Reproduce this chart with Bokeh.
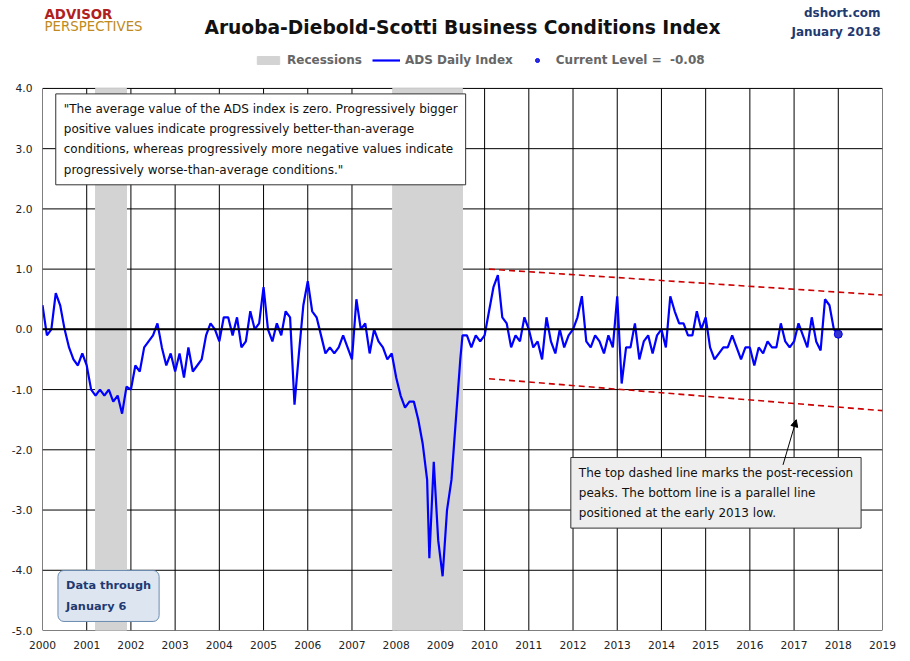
from bokeh.plotting import figure
from bokeh.models import Range1d, Label, Legend, LegendItem, FixedTicker, NumeralTickFormatter, Span, Arrow, NormalHead
from bokeh.embed import file_html
from bokeh.resources import INLINE

years = [2000.0,2000.1,2000.2,2000.3,2000.4,2000.5,2000.6,2000.7,2000.8,2000.9,
2001.0,2001.1,2001.2,2001.3,2001.4,2001.5,2001.6,2001.7,2001.8,2001.9,
2002.0,2002.1,2002.2,2002.3,2002.4,2002.5,2002.6,2002.7,2002.8,2002.9,
2003.0,2003.1,2003.2,2003.3,2003.4,2003.5,2003.6,2003.7,2003.8,2003.9,
2004.0,2004.1,2004.2,2004.3,2004.4,2004.5,2004.6,2004.7,2004.8,2004.9,
2005.0,2005.1,2005.2,2005.3,2005.4,2005.5,2005.6,2005.7,2005.8,2005.9,
2006.0,2006.1,2006.2,2006.3,2006.4,2006.5,2006.6,2006.7,2006.8,2006.9,
2007.0,2007.1,2007.2,2007.3,2007.4,2007.5,2007.6,2007.7,2007.8,2007.9,
2008.0,2008.1,2008.2,2008.3,2008.4,2008.5,2008.6,2008.7,2008.75,2008.85,2008.95,
2009.0,2009.05,2009.15,2009.25,2009.35,2009.45,2009.5,2009.6,2009.7,2009.8,2009.9,
2010.0,2010.1,2010.2,2010.3,2010.4,2010.5,2010.6,2010.7,2010.8,2010.9,
2011.0,2011.1,2011.2,2011.3,2011.4,2011.5,2011.6,2011.7,2011.8,2011.9,
2012.0,2012.1,2012.2,2012.3,2012.4,2012.5,2012.6,2012.7,2012.8,2012.9,
2013.0,2013.1,2013.2,2013.3,2013.4,2013.5,2013.6,2013.7,2013.8,2013.9,
2014.0,2014.1,2014.2,2014.3,2014.4,2014.5,2014.6,2014.7,2014.8,2014.9,
2015.0,2015.1,2015.2,2015.3,2015.4,2015.5,2015.6,2015.7,2015.8,2015.9,
2016.0,2016.1,2016.2,2016.3,2016.4,2016.5,2016.6,2016.7,2016.8,2016.9,
2017.0,2017.1,2017.2,2017.3,2017.4,2017.5,2017.6,2017.7,2017.8,2017.9,2018.0]
ads = [0.4,-0.1,0.0,0.6,0.4,0.0,-0.3,-0.5,-0.6,-0.4,
-0.6,-1.0,-1.1,-1.0,-1.1,-1.0,-1.2,-1.1,-1.4,-0.95,
-1.0,-0.6,-0.7,-0.3,-0.2,-0.1,0.1,-0.3,-0.6,-0.4,
-0.7,-0.4,-0.8,-0.3,-0.7,-0.6,-0.5,-0.1,0.1,0.0,
-0.2,0.2,0.2,-0.1,0.2,-0.3,-0.2,0.3,0.0,0.1,
0.7,0.0,-0.2,0.1,-0.1,0.3,0.2,-1.25,-0.4,0.4,
0.8,0.3,0.2,-0.1,-0.4,-0.3,-0.4,-0.3,-0.1,-0.3,
-0.5,0.5,0.0,0.1,-0.4,0.0,-0.2,-0.3,-0.5,-0.4,
-0.8,-1.1,-1.3,-1.2,-1.2,-1.5,-1.9,-2.5,-3.8,-2.2,-3.5,
-3.8,-4.1,-3.0,-2.5,-1.5,-0.5,-0.1,-0.1,-0.3,-0.1,-0.2,
-0.1,0.3,0.7,0.9,0.2,0.1,-0.3,-0.1,-0.2,0.2,
0.0,-0.3,-0.2,-0.5,0.2,-0.2,-0.4,0.0,-0.3,-0.1,
0.0,0.2,0.55,-0.2,-0.3,-0.1,-0.2,-0.4,-0.1,-0.3,
0.55,-0.9,-0.3,-0.3,0.1,-0.5,-0.2,-0.1,-0.4,-0.1,
0.0,-0.3,0.55,0.3,0.1,0.1,-0.1,-0.1,0.3,0.0,
0.2,-0.3,-0.5,-0.4,-0.3,-0.3,-0.1,-0.3,-0.5,-0.3,
-0.3,-0.6,-0.3,-0.4,-0.2,-0.3,-0.3,0.1,-0.2,-0.3,
-0.2,0.1,-0.1,-0.3,0.2,-0.2,-0.35,0.5,0.4,0.0,-0.08]
rec_start = [2001.2, 2007.92]
rec_end = [2001.9, 2009.5]
top_x = [2010.1, 2019.0]; top_y = [1.0, 0.57]
bot_x = [2010.1, 2019.0]; bot_y = [-0.82, -1.35]
xticks = list(range(2000, 2020))
yticks = [-5, -4, -3, -2, -1, 0, 1, 2, 3, 4]
YMIN, YMAX = -5, 4

F = "DejaVu Sans"
p = figure(frame_width=840, frame_height=630, output_backend="svg", toolbar_location=None,
           x_range=Range1d(2000, 2019), y_range=Range1d(YMIN, 5.46),
           min_border_left=42, min_border_right=14, min_border_bottom=20, min_border_top=0)
p.background_fill_color = "white"
p.border_fill_color = "white"
p.outline_line_color = None
p.xgrid.visible = False
p.ygrid.visible = False

p.segment(x0=xticks, x1=xticks, y0=[YMIN]*len(xticks), y1=[YMAX]*len(xticks), line_color="black", line_width=1)
p.segment(x0=[xticks[0]]*len(yticks), x1=[xticks[-1]]*len(yticks), y0=yticks, y1=yticks, line_color="black", line_width=1)

rec = p.quad(left=rec_start, right=rec_end, bottom=YMIN, top=YMAX, color="#d3d3d3", alpha=1)
ln = p.line(years, ads, line_color="#0000ff", line_width=2.2)
dot = p.scatter([years[-1]], [ads[-1]], size=8, fill_color="#3333cc", line_color="#0000ff")
p.line(top_x, top_y, line_color="#cc0000", line_width=1.6, line_dash="6 4")
p.line(bot_x, bot_y, line_color="#cc0000", line_width=1.6, line_dash="6 4")
p.add_layout(Span(location=0, dimension="width", line_color="black", line_width=2))

p.xaxis.ticker = FixedTicker(ticks=xticks)
p.yaxis.ticker = FixedTicker(ticks=yticks)
p.yaxis.formatter = NumeralTickFormatter(format="0.0")
for ax in (p.xaxis[0], p.yaxis[0]):
    ax.major_label_text_font = F
    ax.major_label_text_font_size = "8pt"
    ax.major_label_text_color = "#222222"
    ax.axis_line_color = None
    ax.major_tick_line_color = None
    ax.minor_tick_line_color = None
    ax.major_label_standoff = 4

legend = Legend(items=[LegendItem(label="Recessions", renderers=[rec]),
                       LegendItem(label="ADS Daily Index", renderers=[ln]),
                       LegendItem(label="Current Level =  -0.08", renderers=[dot])],
                orientation="horizontal", border_line_color=None, background_fill_alpha=0,
                location=(212, 563),
                label_text_font=F, label_text_font_style="bold",
                label_text_font_size="9pt", label_text_color="#666666",
                glyph_width=28, glyph_height=10, spacing=10, margin=0, padding=2)
p.add_layout(legend)

p.add_layout(Label(x=2009.5, y=5.01, text="Aruoba-Diebold-Scotti Business Conditions Index",
                   text_align="center", text_baseline="middle", text_font=F, text_font_size="14pt",
                   text_font_style="bold", text_color="#111111"))
p.add_layout(Label(x=2000.0, y=5.23, text="ADVISOR", text_font=F, text_font_style="bold",
                   text_baseline="middle", text_font_size="10pt", text_color="#b02020", x_offset=2))
p.add_layout(Label(x=2000.0, y=5.03, text="PERSPECTIVES", text_font=F, text_baseline="middle",
                   text_font_size="10pt", text_color="#c08a20", x_offset=2))
p.add_layout(Label(x=2019.0, y=5.26, text="dshort.com", text_font=F, text_font_style="bold",
                   text_baseline="middle", text_font_size="9pt", text_color="#1f3a70", text_align="right", x_offset=-2))
p.add_layout(Label(x=2019.0, y=4.93, text="January 2018", text_font=F, text_font_style="bold",
                   text_baseline="middle", text_font_size="9pt", text_color="#1f3a70", text_align="right", x_offset=-2))

box_style = dict(text_font=F, text_font_size="9pt", text_color="#111111",
                 background_fill_color="white", border_line_color="#333333",
                 text_line_height=1.45)
p.add_layout(Label(x=2000.3, y=2.4, padding=8,
    text='"The average value of the ADS index is zero. Progressively bigger\npositive values indicate progressively better-than-average\nconditions, whereas progressively more negative values indicate\nprogressively worse-than-average conditions."',
    **box_style))
p.add_layout(Label(x=2011.95, y=-3.3, padding=8,
    text="The top dashed line marks the post-recession\npeaks. The bottom  line is a parallel line\npositioned at the early 2013 low.",
    **{**box_style, "background_fill_color": "#eeeeee"}))
p.add_layout(Label(x=2000.35, y=-4.85, padding=8, border_radius=6,
    text="Data through\n   January 6", text_font=F, text_font_size="8.5pt",
    text_font_style="bold", text_color="#1f3a70", background_fill_color="#dde6f0",
    border_line_color="#6a8ab0", text_line_height=1.5))
p.add_layout(Arrow(x_start=2016.75, y_start=-2.25, x_end=2017.05, y_end=-1.5,
                   end=NormalHead(size=7, fill_color="black"), line_width=1))

open("out.html", "w").write(file_html(p, INLINE))
